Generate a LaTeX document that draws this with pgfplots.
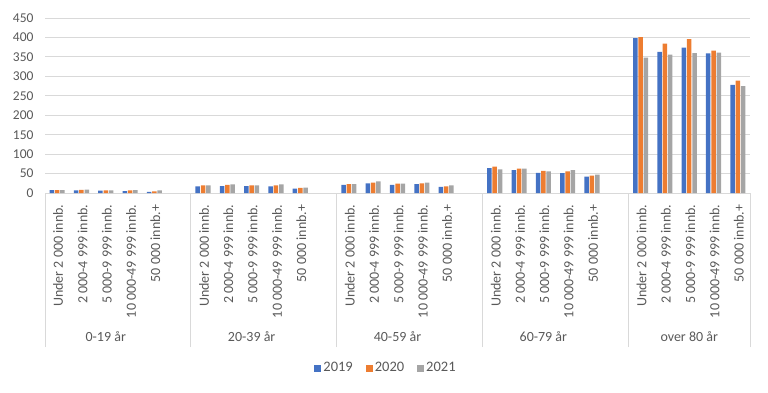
\documentclass[border=0pt]{standalone}
\usepackage{pgfplots}
\pgfplotsset{compat=1.18}
\usepackage{pgfplotstable}
\usepackage{fontspec}
\setmainfont{Carlito}
\definecolor{cblue}{HTML}{4472C4}
\definecolor{corange}{HTML}{ED7D31}
\definecolor{cgray}{HTML}{A5A5A5}
\definecolor{ctext}{HTML}{595959}
\definecolor{cgrid}{HTML}{D9D9D9}
\pgfplotstableread{
x y2019 y2020 y2021
0 7.5 7.5 7.5
1 6.5 8 9
2 6 7 7
3 5 7 7.5
4 3 4.5 7
6 17 19.5 19.5
7 18 21 22
8 18 19.5 19.5
9 17 19.5 22
10 11 13 14
12 21 23 23
13 25 27 30
14 21 24 24
15 23 25 27
16 16 17 19.5
18 64 68 61
19 59 62.5 62.5
20 52 57 55.5
21 51 55.5 59
22 42 45 47
24 398 401 348
25 363 384 356
26 374 396 360
27 359 366 361
28 278 289 275
}\datatable
\begin{document}
\begin{tikzpicture}
\useasboundingbox (0,0) rectangle (768pt,392pt);
\begin{axis}[
  at={(45pt,199pt)}, anchor=south west,
  scale only axis, width=705pt, height=175pt,
  xmin=-0.5, xmax=28.5, ymin=0, ymax=450,
  ytick={0,50,...,450},
  ymajorgrids, grid style={cgrid, line width=0.8pt},
  axis x line*=bottom, axis y line*=left,
  x axis line style={cgrid, line width=0.8pt},
  y axis line style={draw=none},
  major tick length=0pt,
  xtick pos=bottom, ytick pos=left,
  tick style={draw=none},
  xtick={0,1,2,3,4,6,7,8,9,10,12,13,14,15,16,18,19,20,21,22,24,25,26,27,28},
  xticklabels={Under 2 000 innb.,2 000-4 999 innb.,5 000-9 999 innb.,10 000-49 999 innb.,50 000 innb.+,
               Under 2 000 innb.,2 000-4 999 innb.,5 000-9 999 innb.,10 000-49 999 innb.,50 000 innb.+,
               Under 2 000 innb.,2 000-4 999 innb.,5 000-9 999 innb.,10 000-49 999 innb.,50 000 innb.+,
               Under 2 000 innb.,2 000-4 999 innb.,5 000-9 999 innb.,10 000-49 999 innb.,50 000 innb.+,
               Under 2 000 innb.,2 000-4 999 innb.,5 000-9 999 innb.,10 000-49 999 innb.,50 000 innb.+},
  xticklabel style={yshift=-8pt, xshift=1pt, rotate=90, anchor=east, font=\fontsize{14}{16}\selectfont, text=ctext},
  yticklabel style={font=\fontsize{13.5}{16}\selectfont, text=ctext, xshift=-8pt},
  /pgf/number format/assume math mode=true,
  extra x ticks={-0.5,5.5,11.5,17.5,23.5,28.5},
  extra x tick labels={},
  extra x tick style={major tick length=154pt, tick align=outside, grid=none, tick style={draw=cgrid, line width=0.8pt}},
  ybar=0.8pt, bar width=4.5pt,
  clip=false,
  legend columns=3,
  legend style={draw=none, at={(0.4837,-1.0)}, anchor=center, font=\fontsize{14.5}{16}\selectfont, text=ctext,
    /tikz/every even column/.append style={column sep=11pt}},
  legend image code/.code={\fill[#1,draw=none] (0pt,-3.5pt) rectangle (7pt,3.5pt);},
]
\addplot[fill=cblue, draw=none] table[x=x, y=y2019] {\datatable};
\addplot[fill=corange, draw=none] table[x=x, y=y2020] {\datatable};
\addplot[fill=cgray, draw=none] table[x=x, y=y2021] {\datatable};
\legend{2019,2020,2021}
\node[text=ctext, font=\fontsize{14}{16}\selectfont] at (axis cs:2,0) [yshift=-144pt] {0-19 år};
\node[text=ctext, font=\fontsize{14}{16}\selectfont] at (axis cs:8,0) [yshift=-144pt] {20-39 år};
\node[text=ctext, font=\fontsize{14}{16}\selectfont] at (axis cs:14,0) [yshift=-144pt] {40-59 år};
\node[text=ctext, font=\fontsize{14}{16}\selectfont] at (axis cs:20,0) [yshift=-144pt] {60-79 år};
\node[text=ctext, font=\fontsize{14}{16}\selectfont] at (axis cs:26,0) [yshift=-144pt] {over 80 år};
\end{axis}
\end{tikzpicture}
\end{document}
